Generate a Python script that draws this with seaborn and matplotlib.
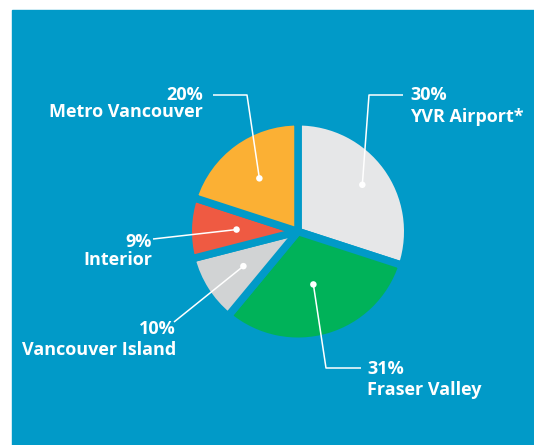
import numpy as np
import matplotlib
matplotlib.use("Agg")
import matplotlib.pyplot as plt
from matplotlib.patches import Rectangle
import seaborn as sns

# Share of respondents by region (reading clockwise from 12 o'clock)
regions = ["YVR Airport*", "Fraser Valley", "Vancouver Island", "Interior", "Metro Vancouver"]
shares = [30, 31, 10, 9, 20]
slice_colors = ["#e6e7e8", "#00b259", "#d1d3d4", "#ef5a42", "#fbb034"]

BLUE = "#019ac8"
W, H = 534, 445

sns.set_theme(style="white")
plt.rcParams["font.family"] = ["Open Sans", "DejaVu Sans"]

fig = plt.figure(figsize=(W / 100, H / 100), dpi=100)
fig.patch.set_facecolor("white")
ax = fig.add_axes([0, 0, 1, 1])

# blue panel behind everything
ax.add_patch(Rectangle((12, 0), W - 12, H - 10, color=BLUE, zorder=0))

# pie geometry in pixel units (y measured from top, flipped below)
cx, cy = 298, 231.5
r_vis = 106
gap_px = 7.5
gap_pt = gap_px * 72 / 100

wedges, _ = ax.pie(
    shares,
    colors=sns.color_palette(slice_colors),
    startangle=90,
    counterclock=False,
    center=(cx, H - cy),
    radius=r_vis + gap_px / 2,
    wedgeprops=dict(edgecolor=BLUE, linewidth=gap_pt, joinstyle="round"),
    frame=True,
)

# label layout: dot radius fraction, leader elbow points, text lines
dot_frac = [0.75, 0.52, 0.61, 0.58, 0.62]
leaders = [
    [(403, 95), (369, 95)],
    [(361, 368), (326, 368)],
    [(174, 322)],
    [(153, 239)],
    [(213, 95), (247, 95)],
]
labels = [
    (410, 100, 122, "left"),
    (367, 374, 395, "left"),
    (176, 334, 355, "right"),
    (152, 247, 265, "right"),
    (203, 100, 117, "right"),
]

for w, frac, pts, (tx, y1, y2, ha), name, pct in zip(
    wedges, dot_frac, leaders, labels, regions, shares
):
    mid = np.deg2rad((w.theta1 + w.theta2) / 2)
    dx = cx + frac * r_vis * np.cos(mid)
    dy = cy - frac * r_vis * np.sin(mid)
    xs = [p[0] for p in pts] + [dx]
    ys = [H - p[1] for p in pts] + [H - dy]
    ax.plot(xs, ys, color="white", lw=1.1, solid_capstyle="butt", zorder=3)
    ax.scatter([dx], [H - dy], s=22, color="white", edgecolor="none", zorder=4)
    ax.text(tx, H - y1, f"{pct}%", color="white", fontsize=13,
            fontweight="bold", ha=ha, va="baseline", zorder=5)
    ax.text(tx, H - y2, name, color="white", fontsize=13,
            fontweight="bold", ha=ha, va="baseline", zorder=5)

ax.set_xlim(0, W)
ax.set_ylim(0, H)
ax.set_aspect("auto")
ax.axis("off")

fig.savefig("out.png", dpi=100, facecolor=fig.get_facecolor())
